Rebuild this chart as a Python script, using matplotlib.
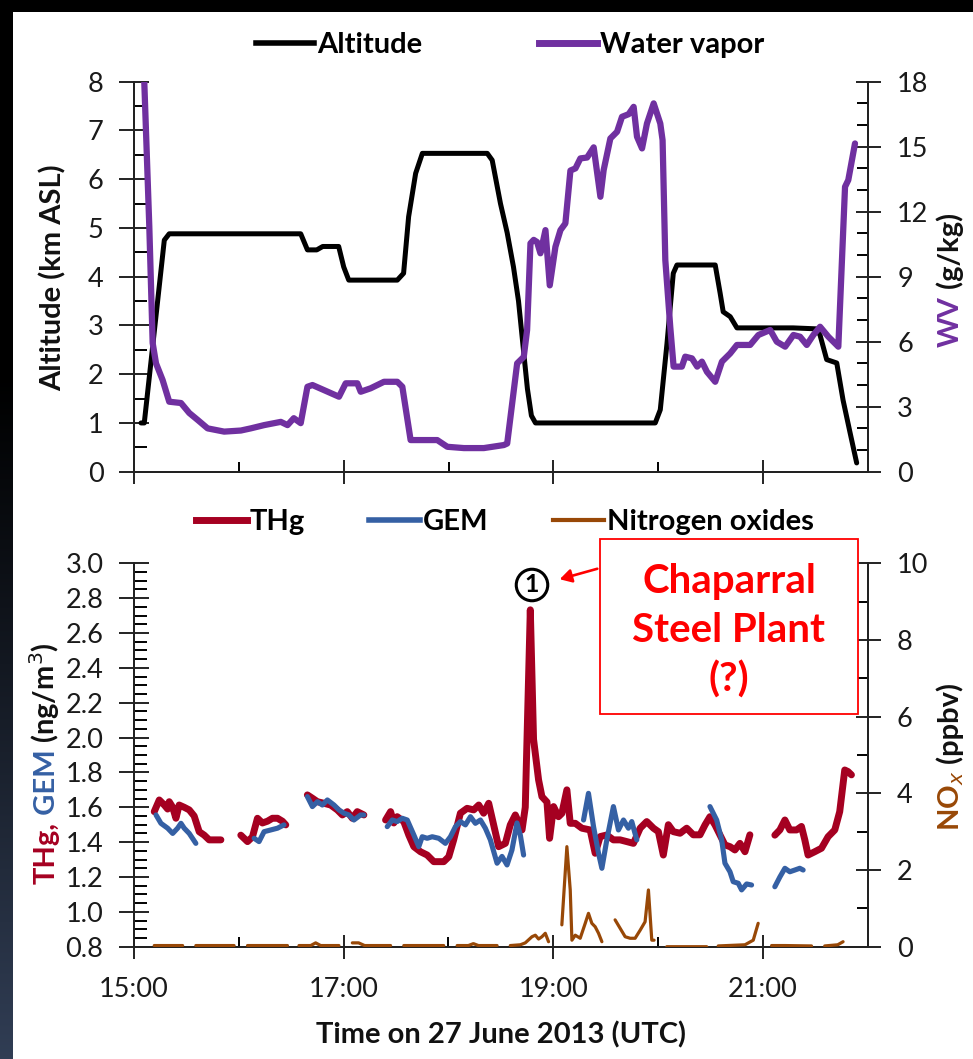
import numpy as np
import matplotlib
matplotlib.use("Agg")
import matplotlib.pyplot as plt
from matplotlib.lines import Line2D
from matplotlib.patches import Rectangle, FancyArrowPatch
from matplotlib.ticker import FixedLocator, MultipleLocator, FormatStrFormatter

plt.rcParams['font.family'] = ['Lato', 'DejaVu Sans']
nan = np.nan

# ---------------- data (time in decimal hours UTC, 27 June 2013) ----------------
alt_time = [15.067, 15.098, 15.289, 15.336, 16.590, 16.654, 16.743, 16.800, 16.952,
            17.000, 17.048, 17.511, 17.571, 17.619, 17.686, 17.750, 18.369, 18.416,
            18.495, 18.559, 18.619, 18.667, 18.714, 18.752, 18.790, 18.829, 19.971,
            20.019, 20.083, 20.143, 20.178, 20.543, 20.590, 20.619, 20.686, 20.750,
            21.286, 21.511, 21.543, 21.606, 21.702, 21.762, 21.829, 21.892]
alt_km = [1.0, 1.0, 4.75, 4.88, 4.88, 4.55, 4.55, 4.62, 4.62,
          4.2, 3.93, 3.93, 4.07, 5.23, 6.12, 6.53, 6.53, 6.39,
          5.5, 4.9, 4.2, 3.5, 2.5, 1.7, 1.15, 1.0, 1.0,
          1.27, 2.63, 4.07, 4.24, 4.24, 3.66, 3.28, 3.18, 2.95,
          2.95, 2.93, 2.8, 2.3, 2.23, 1.47, 0.8, 0.18]

wv_time = [15.098, 15.146, 15.178, 15.210, 15.273, 15.336, 15.448, 15.527, 15.607,
           15.702, 15.860, 16.019, 16.114, 16.241, 16.400, 16.464, 16.524, 16.590,
           16.654, 16.702, 16.810, 16.955, 17.019, 17.130, 17.162, 17.257, 17.384,
           17.511, 17.559, 17.638, 17.892, 17.988, 18.146, 18.336, 18.527, 18.559,
           18.654, 18.717, 18.749, 18.781, 18.812, 18.844, 18.876, 18.924, 18.965,
           19.019, 19.067, 19.114, 19.162, 19.210, 19.257, 19.321, 19.384, 19.448,
           19.479, 19.543, 19.607, 19.654, 19.717, 19.765, 19.797, 19.845, 19.892,
           19.956, 20.019, 20.041, 20.067, 20.114, 20.146, 20.225, 20.257, 20.321,
           20.371, 20.416, 20.464, 20.543, 20.607, 20.686, 20.750, 20.876, 20.955,
           21.067, 21.130, 21.210, 21.289, 21.352, 21.416, 21.479, 21.543, 21.622,
           21.717, 21.781, 21.812, 21.876]
wv_gkg = [18.0, 11.3, 5.94, 5.0, 4.23, 3.23, 3.17, 2.71, 2.39,
          2.0, 1.85, 1.9, 2.0, 2.15, 2.3, 2.15, 2.47, 2.24,
          3.92, 4.0, 3.77, 3.46, 4.08, 4.08, 3.69, 3.85, 4.15,
          4.15, 3.92, 1.46, 1.46, 1.15, 1.09, 1.09, 1.23, 1.3,
          5.0, 5.3, 6.54, 10.54, 10.7, 10.6, 10.08, 11.15, 8.6,
          10.38, 11.15, 11.46, 13.9, 14.0, 14.46, 14.5, 14.97, 12.69,
          13.92, 15.38, 15.69, 16.38, 16.5, 16.84, 15.46, 14.92, 16.07,
          17.0, 16.07, 15.3, 9.77, 6.69, 4.85, 4.85, 5.31, 5.23,
          4.85, 5.08, 4.61, 4.15, 5.08, 5.46, 5.85, 5.85, 6.31,
          6.54, 6.0, 5.77, 6.31, 6.23, 5.85, 6.31, 6.69, 6.23,
          5.77, 13.15, 13.46, 15.15]

thg_time = [15.193, 15.241, 15.289, 15.321, 15.336, 15.369, 15.400, 15.431, 15.479,
            15.527, 15.574, 15.622, 15.670, 15.717, 15.829, 15.92,
            16.019, 16.083, 16.130, 16.178, 16.225, 16.273, 16.321, 16.369, 16.416,
            16.448, 16.55,
            16.654, 16.702, 16.750, 16.812, 16.876, 16.940, 16.988, 17.035, 17.083,
            17.130, 17.193, 17.30,
            17.400, 17.448, 17.479, 17.511, 17.574, 17.622, 17.670, 17.733, 17.797,
            17.860, 17.955, 18.003, 18.050, 18.114, 18.178, 18.241, 18.289, 18.336,
            18.384, 18.431, 18.479, 18.543, 18.590, 18.638, 18.702, 18.733, 18.781,
            18.812, 18.860, 18.892, 18.940, 18.965, 19.003, 19.050, 19.082, 19.130,
            19.162, 19.210, 19.273, 19.352, 19.400, 19.448, 19.511, 19.574, 19.638,
            19.702, 19.765, 19.829, 19.892, 19.956, 20.003, 20.050, 20.098, 20.146,
            20.210, 20.273, 20.336, 20.400, 20.448, 20.495, 20.543, 20.590, 20.638,
            20.686, 20.733, 20.781, 20.829, 20.876, 21.00,
            21.114, 21.162, 21.210, 21.257, 21.321, 21.368, 21.400, 21.431, 21.495,
            21.559, 21.622, 21.686, 21.733, 21.781, 21.812, 21.845]
thg_ngm3 = [1.575, 1.642, 1.613, 1.59, 1.632, 1.60, 1.537, 1.613, 1.60,
            1.585, 1.55, 1.46, 1.44, 1.413, 1.413, nan,
            1.44, 1.403, 1.43, 1.537, 1.51, 1.52, 1.537, 1.537, 1.52,
            1.499, nan,
            1.671, 1.652, 1.632, 1.623, 1.613, 1.585, 1.556, 1.575, 1.537,
            1.575, 1.556, nan,
            1.527, 1.575, 1.51, 1.546, 1.518, 1.44, 1.374, 1.345, 1.326,
            1.288, 1.288, 1.316, 1.413, 1.566, 1.594, 1.585, 1.613, 1.566,
            1.623, 1.50, 1.374, 1.393, 1.499, 1.556, 1.47, 1.60, 2.733,
            1.99, 1.757, 1.661, 1.63, 1.422, 1.604, 1.546, 1.565, 1.70,
            1.508, 1.508, 1.48, 1.47, 1.336, 1.432, 1.441, 1.413, 1.413,
            1.403, 1.393, 1.48, 1.518, 1.48, 1.46, 1.326, 1.50, 1.46,
            1.451, 1.48, 1.442, 1.442, 1.499, 1.546, 1.499, 1.442, 1.384,
            1.374, 1.355, 1.393, 1.345, 1.442, nan,
            1.44, 1.47, 1.527, 1.47, 1.47, 1.49, 1.413, 1.326, 1.345,
            1.365, 1.431, 1.47, 1.575, 1.814, 1.805, 1.786]

gem_time = [15.210, 15.257, 15.321, 15.369, 15.416, 15.448, 15.479, 15.527, 15.590, 15.80,
            16.146, 16.193, 16.241, 16.305, 16.369, 16.431, 16.55,
            16.654, 16.702, 16.750, 16.797, 16.845, 16.908, 16.955, 17.003, 17.050,
            17.098, 17.162, 17.193, 17.30,
            17.416, 17.464, 17.511, 17.559, 17.607, 17.670, 17.717, 17.750, 17.797,
            17.845, 17.908, 17.971, 18.019, 18.067, 18.114, 18.162, 18.210, 18.257,
            18.305, 18.352, 18.400, 18.464, 18.511, 18.559, 18.606, 18.654, 18.686,
            18.717, 19.00,
            19.289, 19.336, 19.384, 19.432, 19.464, 19.511, 19.574, 19.622, 19.670,
            19.717, 19.749, 19.797, 20.20,
            20.495, 20.559, 20.607, 20.638, 20.686, 20.717, 20.765, 20.797, 20.845,
            20.892, 21.00,
            21.114, 21.162, 21.210, 21.257, 21.305, 21.352, 21.384]
gem_ngm3 = [1.556, 1.508, 1.48, 1.45, 1.48, 1.508, 1.48, 1.45, 1.393, nan,
            1.422, 1.403, 1.46, 1.47, 1.48, 1.499, nan,
            1.661, 1.604, 1.632, 1.613, 1.642, 1.613, 1.585, 1.566, 1.556,
            1.527, 1.556, 1.556, nan,
            1.489, 1.527, 1.518, 1.537, 1.527, 1.441, 1.374, 1.431, 1.422,
            1.431, 1.422, 1.393, 1.431, 1.489, 1.518, 1.499, 1.546, 1.508,
            1.527, 1.48, 1.413, 1.279, 1.318, 1.269, 1.355, 1.51, 1.44,
            1.326, nan,
            1.527, 1.68, 1.49, 1.336, 1.25, 1.413, 1.604, 1.47, 1.527,
            1.48, 1.518, 1.413, nan,
            1.604, 1.527, 1.413, 1.279, 1.23, 1.173, 1.164, 1.126, 1.16,
            1.154, nan,
            1.144, 1.20, 1.25, 1.23, 1.24, 1.25, 1.24]

nox_time = [15.193, 15.464, 15.53,
            15.590, 15.955, 16.02,
            16.083, 16.464, 16.52,
            16.574, 16.686, 16.733, 16.781, 16.955, 17.02,
            17.083, 17.143, 17.20, 17.448, 17.51,
            17.574, 17.955, 18.02,
            18.083, 18.190, 18.238, 18.286, 18.464, 18.53,
            18.590, 18.686, 18.733, 18.797, 18.829, 18.860, 18.892, 18.924, 18.955, 19.02,
            19.082, 19.130, 19.162, 19.178, 19.210, 19.257, 19.305, 19.336, 19.368,
            19.400, 19.432, 19.464, 19.53,
            19.590, 19.638, 19.686, 19.733, 19.781, 19.829, 19.876, 19.908, 19.940,
            19.962, 20.02,
            20.083, 20.464, 20.52,
            20.574, 20.829, 20.908, 20.955, 21.02,
            21.083, 21.210, 21.464, 21.53,
            21.590, 21.714, 21.765]
nox_ppbv = [0.03, 0.03, nan,
            0.03, 0.03, nan,
            0.03, 0.03, nan,
            0.03, 0.03, 0.10, 0.03, 0.03, nan,
            0.10, 0.10, 0.03, 0.03, nan,
            0.03, 0.03, nan,
            0.03, 0.03, 0.08, 0.03, 0.03, nan,
            0.03, 0.05, 0.10, 0.26, 0.30, 0.20, 0.26, 0.35, 0.13, nan,
            0.57, 2.61, 1.48, 0.17, 0.30, 0.22, 0.61, 0.87, 0.61,
            0.52, 0.35, 0.13, nan,
            0.70, 0.48, 0.26, 0.22, 0.22, 0.43, 0.65, 1.48, 0.17,
            0.17, nan,
            0.0, 0.0, nan,
            0.02, 0.05, 0.17, 0.61, nan,
            0.03, 0.03, 0.02, nan,
            0.02, 0.05, 0.13]

hour_ticks = [15, 17, 19, 21]
hour_minor = [16, 18, 20]
hour_labels = ["15:00", "17:00", "19:00", "21:00"]

# ---------------- colours ----------------
C_ALT = "#000000"
C_WV = "#7030A0"
C_THG = "#A50021"
C_GEM = "#3560A4"
C_NOX = "#984807"
C_RED = "#FF0000"

W, H = 973, 1059
fig = plt.figure(figsize=(W / 100, H / 100), dpi=100)


def fx(px):
    return px / W


def fy(py):
    return 1 - py / H


# ---------------- slide background ----------------
bg = fig.add_axes([0, 0, 1, 1], zorder=-10)
bg.set_axis_off()
rows = np.linspace(0, 1, 400)[:, None]
ramp = np.clip((rows - 0.35) / 0.65, 0, 1) ** 1.1
base = np.array([0.19, 0.24, 0.33])
img = (ramp[..., None] * base[None, None, :]) * np.ones((1, 4, 1))
bg.imshow(img, extent=[0, 1, 0, 1], aspect='auto', interpolation='bilinear')
bg.add_patch(Rectangle((fx(13), 0), 1 - fx(13), fy(12), facecolor='white',
                       edgecolor='none'))
bg.set_xlim(0, 1)
bg.set_ylim(0, 1)

TICK_FS = 19.5
LAB_FS = 21

# ---------------- upper panel: altitude and water vapour ----------------
L, R = fx(134), fx(868)
ax1 = fig.add_axes([L, fy(471.7), R - L, fy(81.7) - fy(471.7)])
ax1.plot(alt_time, alt_km, color=C_ALT, lw=3.6, solid_joinstyle='round',
         solid_capstyle='round', zorder=3)
ax1.set_xlim(15, 22)
ax1.set_ylim(0, 8)
ax1r = ax1.twinx()
ax1r.plot(wv_time, wv_gkg, color=C_WV, lw=4.5, solid_joinstyle='round',
          solid_capstyle='round', zorder=3)
ax1r.set_ylim(0, 18)

# ---------------- lower panel: mercury and NOx ----------------
ax2 = fig.add_axes([L, fy(946.7), fx(867.7) - L, fy(563.3) - fy(946.7)])
ax2.plot(thg_time, thg_ngm3, color=C_THG, lw=5.0, solid_joinstyle='round',
         solid_capstyle='round', zorder=3)
ax2.plot(gem_time, gem_ngm3, color=C_GEM, lw=3.7, solid_joinstyle='round',
         solid_capstyle='round', zorder=4)
ax2.set_xlim(15, 22)
ax2.set_ylim(0.8, 3.0)
ax2r = ax2.twinx()
ax2r.plot(nox_time, nox_ppbv, color=C_NOX, lw=2.3, solid_joinstyle='round',
          solid_capstyle='round', zorder=3)
ax2r.set_ylim(0, 10)

for a in (ax1, ax1r, ax2, ax2r):
    a.set_facecolor('none')
    a.spines['top'].set_visible(False)
    for s in a.spines.values():
        s.set_linewidth(1.4)
        s.set_color('#222222')
    a.tick_params(colors='#222222', labelcolor='#1a1a1a', labelsize=TICK_FS)

for a in (ax1, ax2):
    a.xaxis.set_major_locator(FixedLocator(hour_ticks))
    a.xaxis.set_minor_locator(FixedLocator(hour_minor))
    a.tick_params(axis='x', which='major', direction='inout', length=17, width=1.4, pad=13)
    a.tick_params(axis='x', which='minor', direction='in', length=7, width=1.4)
    a.tick_params(axis='y', which='major', direction='inout', length=22, width=1.4, pad=11)
    a.tick_params(axis='y', which='minor', direction='in', length=9, width=1.4)
for a in (ax1r, ax2r):
    a.tick_params(axis='y', which='major', direction='inout', length=18, width=1.4, pad=12)
    a.tick_params(axis='y', which='minor', direction='in', length=8, width=1.4)

ax1.set_xticklabels([])
ax2.set_xticklabels(hour_labels)
ax1.yaxis.set_major_locator(MultipleLocator(1))
ax1.yaxis.set_minor_locator(MultipleLocator(0.5))
ax1r.yaxis.set_major_locator(MultipleLocator(3))
ax1r.yaxis.set_minor_locator(MultipleLocator(1))
ax2.yaxis.set_major_locator(MultipleLocator(0.2))
ax2.yaxis.set_minor_locator(MultipleLocator(0.05))
ax2.yaxis.set_major_formatter(FormatStrFormatter('%.1f'))
ax2r.yaxis.set_major_locator(MultipleLocator(2))
ax2r.yaxis.set_minor_locator(MultipleLocator(1))

ax2.set_xlabel("Time on 27 June 2013 (UTC)", fontsize=LAB_FS, fontweight='bold',
               color='#111111', labelpad=14)

# ---------------- legends ----------------
leg1 = ax1.legend([Line2D([], [], color=C_ALT, lw=4.0), Line2D([], [], color=C_WV, lw=5.0)],
                  ["Altitude", "Water vapor"], loc='center', ncol=2, frameon=False,
                  bbox_to_anchor=(fx(510), fy(45)), bbox_transform=fig.transFigure,
                  handlelength=2.0, handletextpad=0.1, columnspacing=4.0,
                  prop={'weight': 'bold', 'size': LAB_FS})
leg2 = ax2.legend([Line2D([], [], color=C_THG, lw=5.0), Line2D([], [], color=C_GEM, lw=4.0),
                   Line2D([], [], color=C_NOX, lw=3.0)],
                  ["THg", "GEM", "Nitrogen oxides"], loc='center', ncol=3, frameon=False,
                  bbox_to_anchor=(fx(505), fy(522)), bbox_transform=fig.transFigure,
                  handlelength=1.75, handletextpad=0.1, columnspacing=2.2,
                  prop={'weight': 'bold', 'size': LAB_FS})

# ---------------- multi-coloured rotated axis titles ----------------
renderer = fig.canvas.get_renderer()


def rotated_title(parts, x_px, yc_px, size):
    arts = []
    for s, c in parts:
        arts.append(fig.text(0, 0, s, color=c, fontsize=size, fontweight='bold',
                             rotation=90, rotation_mode='anchor',
                             ha='left', va='baseline'))
    lens = [a.get_window_extent(renderer).height for a in arts]
    y0 = (H - yc_px) - sum(lens) / 2
    for a, ln in zip(arts, lens):
        a.set_position((x_px / W, y0 / H))
        y0 += ln


rotated_title([("Altitude (km ASL)", '#111111')], 62, 278, LAB_FS)
rotated_title([("WV", C_WV), (" (g/kg)", '#111111')], 959, 280, LAB_FS)
rotated_title([("THg,", C_THG), (" GEM", C_GEM), (" (ng/m$^3$)", '#111111')], 55, 763, LAB_FS)
rotated_title([("NO$_x$", C_NOX), (" (ppbv)", '#111111')], 959, 757, LAB_FS)

# ---------------- annotation ----------------
fig.text(fx(532), fy(585), "1", fontsize=18, fontweight='bold', ha='center', va='center',
         bbox=dict(boxstyle='circle,pad=0.17', fc='white', ec='black', lw=2.2))
fig.patches.append(Rectangle((fx(600), fy(714)), fx(858) - fx(600), fy(539) - fy(714),
                             transform=fig.transFigure, facecolor='white',
                             edgecolor=C_RED, lw=1.3, zorder=5))
fig.text(fx(729), fy(631), "Chaparral\nSteel Plant\n(?)", color=C_RED, fontsize=29,
         fontweight='bold', ha='center', va='center', linespacing=1.38, zorder=6)
fig.add_artist(FancyArrowPatch(
    (fx(600), fy(568)), (fx(557), fy(580)), transform=fig.transFigure,
    arrowstyle='-|>,head_length=7,head_width=4', color=C_RED, lw=1.9,
    mutation_scale=1, zorder=6))

fig.savefig("out.png", dpi=100)
